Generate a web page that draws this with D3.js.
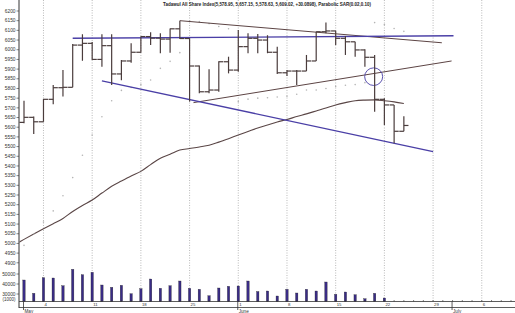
<!DOCTYPE html>
<html>
<head>
<title>Tadawul All Share Index</title>
<style>
  body { margin: 0; background: white; }
  svg { display: block; font-family: "Liberation Sans", Arial, sans-serif; }
</style>
</head>
<body>
<svg width="515" height="313"></svg>
<script src="https://d3js.org/d3.v7.min.js"></script>
<script>
// daily bars, trading days from 2 May (index 0) to 24 June (index 39)
const opens  = [5625,5651,5628,5744,5804,5806,6024,6033,5950,6021,5875,5942,5987,6068,6060,6055,6108,6058,5916,5783,
                5792,5938,5895,6016,6059,6050,5987,5881,5890,5890,5942,6093,6097,6059,6041,5999,5961,5744,5715,5579];
const highs  = [5737,5655,5746,5818,5895,6030,6080,6040,6080,6080,5947,6033,6070,6090,6085,6110,6150,6060,5918,5899,
                5940,5964,6102,6085,6081,6075,6016,5895,5895,5973,6093,6140,6098,6071,6041,6002,5973,5749,5715,5657];
const lows   = [5620,5565,5628,5718,5758,5806,5943,5947,5912,5818,5843,5933,5985,6025,5982,5985,6055,5732,5775,5775,
                5783,5878,5887,5982,5982,5982,5875,5865,5818,5890,5942,6085,6024,5973,5964,5912,5680,5611,5517,5579];
const closes = [5651,5628,5744,5804,5806,6024,6033,5950,6021,5875,5942,5987,6068,6060,6055,6108,6058,5916,5783,5792,
                5938,5895,6016,6059,6050,5987,5881,5890,5890,5942,6093,6097,6059,6041,5999,5961,5744,5715,5579,5609];
const volumes = [44000,30700,46300,46000,38300,54700,49300,51700,39000,36700,38700,30300,35300,45000,35700,38300,43000,35700,34700,28300,
                 36000,37700,38000,43000,32500,33000,28000,34700,31000,34700,33000,42000,29700,32000,29300,25300,30700,26000,22500,22500];
// moving average, first value is the day before index 0
const maValues = [4992,5021,5049,5076,5102,5129,5165,5196,5224,5260,5295,5322,5348,5372,5407,5440,5461,5482,5490,5498,5507,
                  5523,5541,5560,5578,5596,5611,5627,5640,5655,5669,5684,5699,5715,5727,5737,5740,5741,5737,5731,5722];
const sarValues = [4990,5050,5110,5168,5246,5340,5455,5560,5654,5737,5790,5805,5820,5844,5904,5940,5985,6150,6145,6135,
                   6120,6108,5732,5745,5750,5752,5756,5760,5770,5792,5792,5800,5810,5817,5820,5830,6140,6130,6110,6095];

const priceTicks = d3.range(4900, 6201, 50);
const volumeTicks = [50000, 40000, 30000];
const weekLabels = ["4","11","18","25","1","8","15","22","29","6"];
const weekIndex  = [2,7,12,17,22,27,32,37,42,47];
const monthLabels = ["May","June","July"];
const monthIndex  = [0,22,44];
const titleText = "Tadawul All Share Index(5,578.95, 5,657.15, 5,578.63, 5,609.02, +30.0898), Parabolic SAR(0.02,0.10)";

// trend lines: [dayIndex, price] pairs
const trendBlue  = [[[5, 6059], [44.1, 6072]], [[8, 5839], [42, 5474]]];
const trendBrown = [[[16, 6150], [42.9, 6036]], [[17.4, 5727], [43.9, 5942]]];
const circleAt = [35.9, 5861];

const svg = d3.select("svg");
const left = 19, right = 515, volBase = 301.5;

const x = d3.scaleLinear().domain([0, 39]).range([24, 24 + 39 * 9.74]);
const y = d3.scaleLinear().domain([4900, 6200]).range([262.8, 11]);
const yVol = d3.scaleLinear().domain([30000, 50000]).range([294, 274]);

const days = d3.range(opens.length);

// vertical dotted grid
svg.append("g").selectAll("line")
  .data(weekIndex)
  .join("line")
  .attr("x1", d => x(d)).attr("x2", d => x(d))
  .attr("y1", 0).attr("y2", volBase)
  .attr("stroke", "#a8a8a8").attr("stroke-width", 0.8)
  .attr("stroke-dasharray", "1,1.5");

// title
svg.append("text")
  .attr("x", 163).attr("y", 6)
  .attr("font-size", 5.2).attr("font-weight", "bold").attr("fill", "#222")
  .attr("textLength", 208).attr("lengthAdjust", "spacingAndGlyphs")
  .text(titleText);

// left axis
svg.append("line").attr("x1", left).attr("x2", left).attr("y1", 0).attr("y2", 308)
  .attr("stroke", "#333").attr("stroke-width", 1);
const yAxisG = svg.append("g");
yAxisG.selectAll("line").data(priceTicks).join("line")
  .attr("x1", 16.5).attr("x2", left).attr("y1", d => y(d)).attr("y2", d => y(d))
  .attr("stroke", "#333").attr("stroke-width", 0.6);
yAxisG.selectAll("text").data(priceTicks).join("text")
  .attr("x", 15.5).attr("y", d => y(d) + 1.7)
  .attr("text-anchor", "end").attr("font-size", 4.8).attr("fill", "#333")
  .text(d => d);
const vAxisG = svg.append("g");
vAxisG.selectAll("line").data(volumeTicks).join("line")
  .attr("x1", 16.5).attr("x2", left).attr("y1", d => yVol(d)).attr("y2", d => yVol(d))
  .attr("stroke", "#333").attr("stroke-width", 0.6);
vAxisG.selectAll("text").data(volumeTicks).join("text")
  .attr("x", 15.5).attr("y", d => yVol(d) + 1.7)
  .attr("text-anchor", "end").attr("font-size", 4.8).attr("fill", "#333")
  .text(d => d);
svg.append("text").attr("x", 15.5).attr("y", 300.5)
  .attr("text-anchor", "end").attr("font-size", 4.5).attr("fill", "#333").text("(1000)");

// clip area for lines
svg.append("clipPath").attr("id", "plot")
  .append("rect").attr("x", left + 0.5).attr("y", 0).attr("width", right - left).attr("height", volBase);

// moving average
const maLine = d3.line().x((d, i) => x(i - 1)).y(d => y(d)).curve(d3.curveMonotoneX);
svg.append("path").datum(maValues)
  .attr("clip-path", "url(#plot)")
  .attr("d", maLine).attr("fill", "none")
  .attr("stroke", "#5a4646").attr("stroke-width", 1.1);

// parabolic SAR dots
svg.append("g").selectAll("circle").data(sarValues).join("circle")
  .attr("cx", (d, i) => x(i)).attr("cy", d => y(d)).attr("r", 0.8)
  .attr("fill", "#b4b4b4");

// trend lines
const seg = d3.line().x(d => x(d[0])).y(d => y(d[1]));
svg.append("g").selectAll("path").data(trendBrown).join("path")
  .attr("d", seg).attr("fill", "none").attr("stroke", "#5c4444").attr("stroke-width", 1);
svg.append("g").selectAll("path").data(trendBlue).join("path")
  .attr("d", seg).attr("fill", "none").attr("stroke", "#4a3fa6").attr("stroke-width", 1.4);
svg.append("ellipse")
  .attr("cx", x(circleAt[0])).attr("cy", y(circleAt[1])).attr("rx", 9).attr("ry", 8.8)
  .attr("fill", "none").attr("stroke", "#4a3fa6").attr("stroke-width", 0.9);

// OHLC bars
const tick = 4.6;
const bars = svg.append("g").attr("stroke", "#4a3c3c").attr("stroke-width", 1.2);
bars.selectAll("line.hl").data(days).join("line").attr("class", "hl")
  .attr("x1", i => x(i)).attr("x2", i => x(i))
  .attr("y1", i => y(highs[i])).attr("y2", i => y(lows[i]));
bars.selectAll("line.op").data(days).join("line").attr("class", "op")
  .attr("x1", i => x(i) - tick).attr("x2", i => x(i))
  .attr("y1", i => y(opens[i])).attr("y2", i => y(opens[i]));
bars.selectAll("line.cl").data(days).join("line").attr("class", "cl")
  .attr("x1", i => x(i)).attr("x2", i => x(i) + tick)
  .attr("y1", i => y(closes[i])).attr("y2", i => y(closes[i]));

// volume bars
svg.append("g").selectAll("rect").data(volumes).join("rect")
  .attr("x", (d, i) => x(i) - 1.2).attr("width", 2.4)
  .attr("y", d => yVol(d)).attr("height", d => volBase - yVol(d))
  .attr("fill", "#3a2c86").attr("stroke", "#222").attr("stroke-width", 0.3);

// bottom axis
svg.append("line").attr("x1", left).attr("x2", right).attr("y1", volBase).attr("y2", volBase)
  .attr("stroke", "#333").attr("stroke-width", 0.8);
svg.append("line").attr("x1", left).attr("x2", right).attr("y1", 307.5).attr("y2", 307.5)
  .attr("stroke", "#333").attr("stroke-width", 0.8);
svg.append("g").selectAll("line").data(d3.range(0, 51)).join("line")
  .attr("x1", d => x(d)).attr("x2", d => x(d))
  .attr("y1", volBase - 1.5).attr("y2", volBase)
  .attr("stroke", "#333").attr("stroke-width", 0.6);
svg.append("g").selectAll("text").data(weekLabels).join("text")
  .attr("x", (d, i) => x(weekIndex[i]) + 1).attr("y", 306.3)
  .attr("font-size", 4.3).attr("fill", "#333").text(d => d);
svg.append("g").selectAll("line").data(monthIndex).join("line")
  .attr("x1", d => x(d) - 0.5).attr("x2", d => x(d) - 0.5)
  .attr("y1", volBase).attr("y2", 310)
  .attr("stroke", "#333").attr("stroke-width", 0.8);
svg.append("g").selectAll("text").data(monthLabels).join("text")
  .attr("x", (d, i) => x(monthIndex[i]) + 0.5).attr("y", 312.5)
  .attr("font-size", 4.6).attr("fill", "#333").text(d => d);
</script>
</body>
</html>
